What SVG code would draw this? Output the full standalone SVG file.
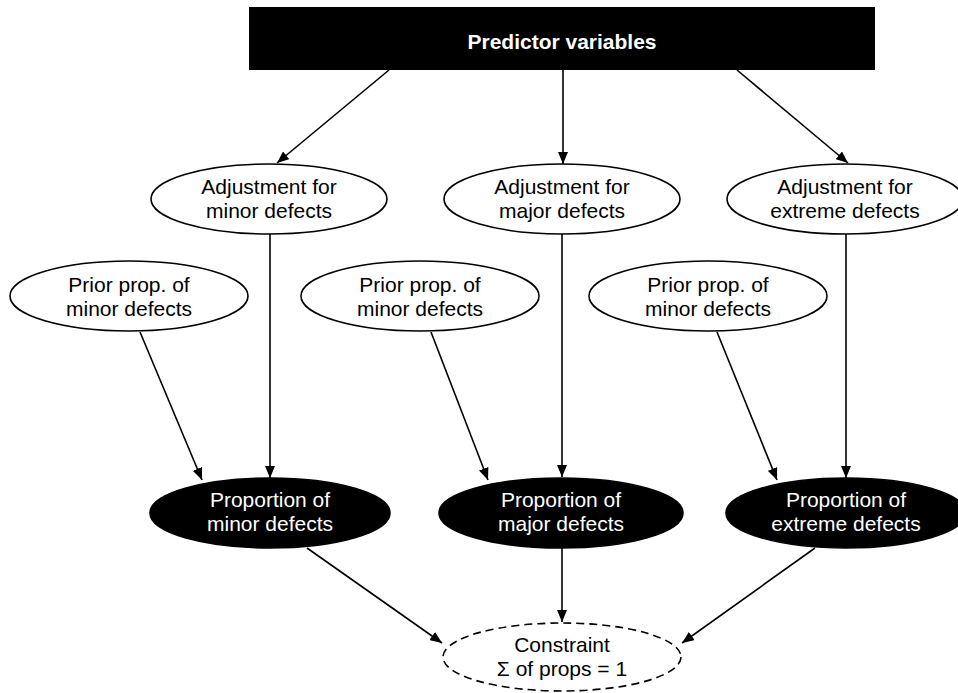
<svg xmlns="http://www.w3.org/2000/svg" width="958" height="693" viewBox="0 0 958 693">
<defs>
<marker id="arr" viewBox="0 0 12 10" refX="12" refY="5" markerWidth="12" markerHeight="10" markerUnits="userSpaceOnUse" orient="auto">
<path d="M0,0 L12,5 L0,10 z" fill="#000"/>
</marker>
</defs>
<style>
text{font-family:"Liberation Sans",Arial,sans-serif;font-size:21px;text-anchor:middle;}
.w{fill:#fff;}
.k{fill:#000;}
.open{fill:#fff;stroke:#000;stroke-width:1.6;}
.solid{fill:#000;stroke:#000;stroke-width:1.6;}
.dash{fill:#fff;stroke:#000;stroke-width:1.6;stroke-dasharray:8 5;}
.edge line{stroke:#000;stroke-width:1.6;marker-end:url(#arr);}
</style>
<rect width="958" height="693" fill="#fff"/>
<g id="connectors" class="edge">
<line x1="389" y1="70" x2="277" y2="163"/>
<line x1="563" y1="70" x2="563" y2="164"/>
<line x1="737" y1="70" x2="848" y2="163"/>
<line x1="270" y1="234" x2="270" y2="478"/>
<line x1="562" y1="234" x2="562" y2="477"/>
<line x1="846" y1="234" x2="846" y2="478"/>
<line x1="140" y1="332" x2="202" y2="480"/>
<line x1="431" y1="332" x2="488" y2="480"/>
<line x1="717" y1="332" x2="777" y2="480"/>
<line x1="307" y1="548" x2="442" y2="643"/>
<line x1="562" y1="548" x2="562" y2="622"/>
<line x1="815" y1="548" x2="682" y2="643"/>
</g>
<g id="predictors">
<rect x="249" y="7" width="626" height="63" fill="#000"/>
<text x="562" y="49" class="w" font-weight="bold">Predictor variables</text>
</g>
<g id="adj-minor">
<ellipse cx="269" cy="199" rx="118" ry="35" class="open"/>
<text x="269" y="194" class="k">Adjustment for</text>
<text x="269" y="218" class="k">minor defects</text>
</g>
<g id="adj-major">
<ellipse cx="562" cy="199" rx="118" ry="35" class="open"/>
<text x="562" y="194" class="k">Adjustment for</text>
<text x="562" y="218" class="k">major defects</text>
</g>
<g id="adj-extreme">
<ellipse cx="845" cy="199" rx="118" ry="35" class="open"/>
<text x="845" y="194" class="k">Adjustment for</text>
<text x="845" y="218" class="k">extreme defects</text>
</g>
<g id="prior-1">
<ellipse cx="129" cy="296" rx="119" ry="35" class="open"/>
<text x="129" y="292" class="k">Prior prop. of</text>
<text x="129" y="316" class="k">minor defects</text>
</g>
<g id="prior-2">
<ellipse cx="420" cy="296" rx="119" ry="35" class="open"/>
<text x="420" y="292" class="k">Prior prop. of</text>
<text x="420" y="316" class="k">minor defects</text>
</g>
<g id="prior-3">
<ellipse cx="708" cy="296" rx="119" ry="35" class="open"/>
<text x="708" y="292" class="k">Prior prop. of</text>
<text x="708" y="316" class="k">minor defects</text>
</g>
<g id="prop-minor">
<ellipse cx="270" cy="513" rx="120" ry="35" class="solid"/>
<text x="270" y="507" class="w">Proportion of</text>
<text x="270" y="531" class="w">minor defects</text>
</g>
<g id="prop-major">
<ellipse cx="561" cy="513" rx="122" ry="35" class="solid"/>
<text x="561" y="507" class="w">Proportion of</text>
<text x="561" y="531" class="w">major defects</text>
</g>
<g id="prop-extreme">
<ellipse cx="846" cy="513" rx="120" ry="35" class="solid"/>
<text x="846" y="507" class="w">Proportion of</text>
<text x="846" y="531" class="w">extreme defects</text>
</g>
<g id="constraint">
<ellipse cx="562" cy="657" rx="119" ry="34" class="dash"/>
<text x="562" y="652" class="k">Constraint</text>
<text x="562" y="676" class="k">Σ of props = 1</text>
</g>
</svg>
